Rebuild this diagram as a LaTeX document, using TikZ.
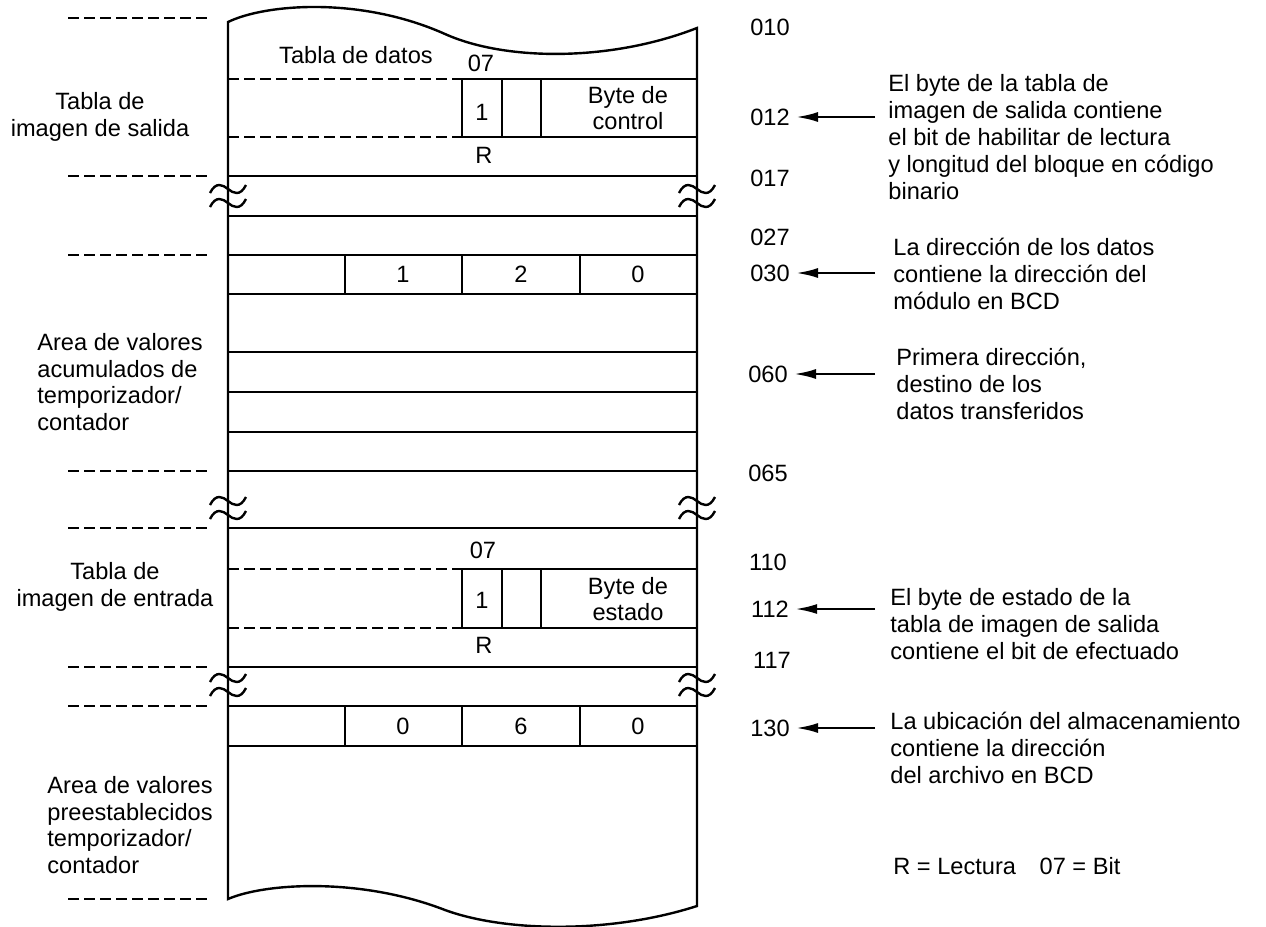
\documentclass[tikz,border=0pt]{standalone}
\usepackage{fontspec}
\setmainfont{Liberation Sans}
\usetikzlibrary{arrows.meta}
\tikzstyle{l1}=[line width=1.2pt, color=black]
\tikzstyle{dsh}=[l1, dash pattern=on 5.5pt off 2.5pt]
\tikzstyle{arr}=[l1, -{Latex[length=11pt,width=5pt]}, shorten >=3pt]
\tikzstyle{txt}=[inner sep=0pt, font=\fontsize{11.8}{13.4}\selectfont]
\tikzstyle{blk}=[txt, align=left, anchor=west]
\newcommand{\brk}[2]{%
  \draw[l1] (#1-18,#2+4) .. controls (#1-12,#2-8) and (#1-5,#2-4) .. (#1,#2) .. controls (#1+5,#2+4) and (#1+12,#2+8) .. (#1+18,#2-4);
  \draw[l1] (#1-18,#2+18) .. controls (#1-12,#2+6) and (#1-5,#2+10) .. (#1,#2+14) .. controls (#1+5,#2+18) and (#1+12,#2+22) .. (#1+18,#2+10);
}

\begin{document}
\begin{tikzpicture}[x=0.5pt,y=-0.5pt]
    \useasboundingbox (0,0) rectangle (1266,927);

    % column with torn top and bottom
    \draw[l1] (228,22) .. controls (265,4) and (360,-4) .. (445,34) .. controls (505,61) and (610,62) .. (697,28)
        -- (697,906) .. controls (610,934) and (505,932) .. (445,910) .. controls (360,877) and (265,883) .. (228,899) -- cycle;

    \draw[dsh] (228,79) -- (462,79) (228,137) -- (462,137) (228,569) -- (462,569) (228,628) -- (462,628);
    \draw[l1] (462,79) -- (697,79) (462,137) -- (697,137) (462,569) -- (697,569) (462,628) -- (697,628);
    \draw[l1] (462,79) -- (462,137) (502,79) -- (502,137) (541,79) -- (541,137);
    \draw[l1] (462,569) -- (462,628) (502,569) -- (502,628) (541,569) -- (541,628);
    \draw[l1] (228,176) -- (697,176) (228,216) -- (697,216) (228,255) -- (697,255) (228,294) -- (697,294);
    \draw[l1] (228,352) -- (697,352) (228,392) -- (697,392) (228,432) -- (697,432) (228,471) -- (697,471);
    \draw[l1] (228,528) -- (697,528) (228,667) -- (697,667) (228,706) -- (697,706) (228,746) -- (697,746);
    \draw[l1] (345,255) -- (345,294) (462,255) -- (462,294) (580,255) -- (580,294);
    \draw[l1] (345,706) -- (345,746) (462,706) -- (462,746) (580,706) -- (580,746);

    \draw[dsh] (68,18) -- (208,18) (68,176) -- (208,176) (68,255) -- (208,255) (68,471) -- (208,471);
    \draw[dsh] (68,528) -- (208,528) (68,667) -- (208,667) (68,706) -- (208,706) (68,899) -- (208,899);

    \brk{228}{189} \brk{697}{189}
    \brk{228}{501} \brk{697}{501}
    \brk{228}{678} \brk{697}{678}

    \node[txt] (datos) at (356,55) {Tabla de datos};
    \node[txt] (bitA) at (481,63) {07};
    \node[txt] (unoA) at (482,112) {1};
    \node[txt, align=center] (ctrl) at (628,108) {Byte de\\control};
    \node[txt] (lecA) at (484,155) {R};
    \node[txt, align=center] (salida) at (100,117) {Tabla de\\imagen de salida};
    \node[txt] (dirA) at (403,274) {1};
    \node[txt] (dirB) at (521,274) {2};
    \node[txt] (dirC) at (638,274) {0};
    \node[blk] (acum) at (37,382) {Area de valores\\acumulados de\\temporizador/\\contador};

    \node[txt] (bitB) at (483,550) {07};
    \node[txt] (unoB) at (482,600) {1};
    \node[txt, align=center] (estado) at (628,599) {Byte de\\estado};
    \node[txt] (lecB) at (484,645) {R};
    \node[txt, align=center] (entrada) at (115,587) {Tabla de\\imagen de entrada};
    \node[txt] (almA) at (403,726) {0};
    \node[txt] (almB) at (521,726) {6};
    \node[txt] (almC) at (638,726) {0};
    \node[blk] (prees) at (47,825) {Area de valores\\preestablecidos\\temporizador/\\contador};

    \node[txt] (n010) at (770,27) {010};
    \node[txt] (n012) at (770,117) {012};
    \node[txt] (n017) at (770,178) {017};
    \node[txt] (n027) at (770,237) {027};
    \node[txt] (n030) at (770,273) {030};
    \node[txt] (n060) at (768,374) {060};
    \node[txt] (n065) at (768,473) {065};
    \node[txt] (n110) at (768,562) {110};
    \node[txt] (n112) at (770,609) {112};
    \node[txt] (n117) at (772,660) {117};
    \node[txt] (n130) at (770,728) {130};

    \node[blk] (d012) at (888,137) {El byte de la tabla de\\imagen de salida contiene\\el bit de habilitar de lectura\\y longitud del bloque en código\\binario};
    \node[blk] (d030) at (893,274) {La dirección de los datos\\contiene la dirección del\\módulo en BCD};
    \node[blk] (d060) at (896,384) {Primera dirección,\\destino de los\\datos transferidos};
    \node[blk] (d112) at (890,624) {El byte de estado de la\\tabla de imagen de salida\\contiene el bit de efectuado};
    \node[blk] (d130) at (890,748) {La ubicación del almacenamiento\\contiene la dirección\\del archivo en BCD};
    \node[blk] (clave) at (893,866) {R = Lectura\quad 07 = Bit};

    \coordinate (s012) at (875,117);
    \coordinate (s030) at (875,273);
    \coordinate (s060) at (875,374);
    \coordinate (s112) at (875,609);
    \coordinate (s130) at (875,728);
    \draw[arr] (s012) -- (n012);
    \draw[arr] (s030) -- (n030);
    \draw[arr] (s060) -- (n060);
    \draw[arr] (s112) -- (n112);
    \draw[arr] (s130) -- (n130);
\end{tikzpicture}
\end{document}
